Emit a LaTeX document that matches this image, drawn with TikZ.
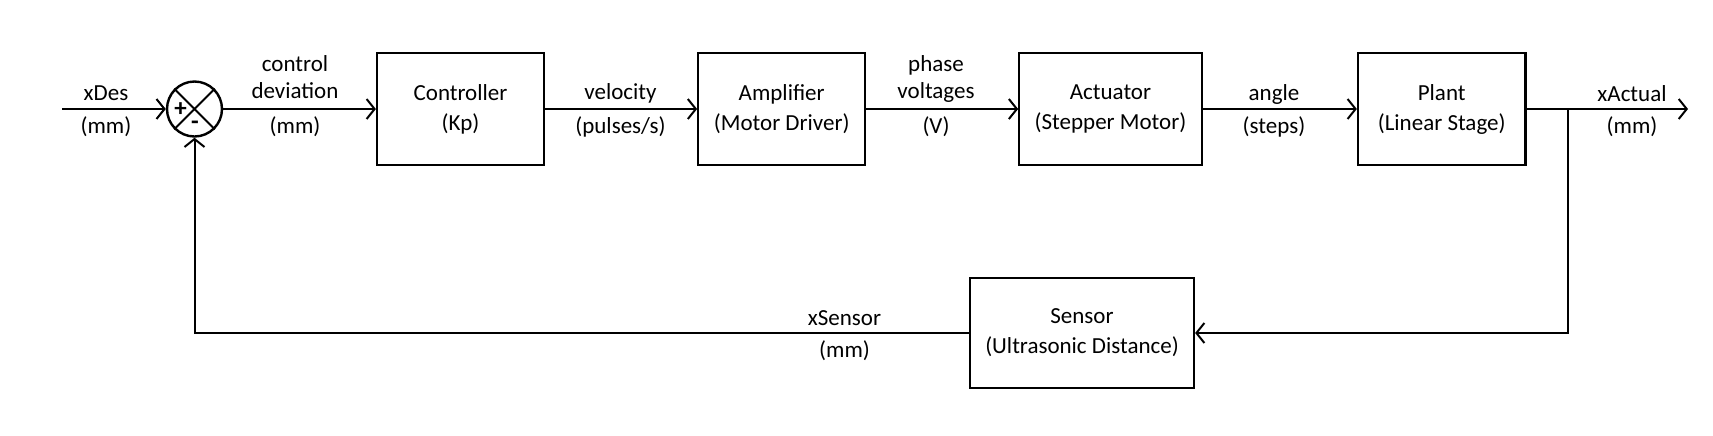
\documentclass[tikz,border=0pt]{standalone}
\usepackage{fontspec}
\setmainfont{Carlito}
\usetikzlibrary{arrows.meta}
\begin{document}
\begin{tikzpicture}[x=0.5pt,y=-0.5pt,
  txt/.style={font=\fontsize{11.5}{15}\selectfont},
  blk/.style={draw, line width=1.1pt, minimum height=55.75pt, align=center, inner sep=0pt, txt},
  lbl/.style={anchor=base, inner sep=0pt, txt},
  wire/.style={draw, line width=1pt},
  sig/.style={wire, -{Straight Barb[length=4pt,width=10pt,line width=1pt]}}]
\useasboundingbox (0,0) rectangle (1713,435);
% blocks
\node[blk, minimum width=83.5pt] (ctrl) at (460.5,109) {Controller\\(Kp)};
\node[blk, minimum width=83.5pt] (amp) at (781.7,109) {Amplifier\\(Motor Driver)};
\node[blk, minimum width=91.25pt] (act) at (1110.5,109) {Actuator\\(Stepper Motor)};
\node[blk, minimum width=83.75pt] (plant) at (1441.7,109) {Plant\\(Linear Stage)};
\node[blk, minimum width=112pt, minimum height=55.15pt] (sens) at (1082,333) {Sensor\\(Ultrasonic Distance)};
% summing junction
\node[circle, draw, line width=1.2pt, minimum size=27.5pt, inner sep=0pt] (sum) at (194.5,109) {};
\draw[line width=1pt] (sum.north west) -- (sum.south east) (sum.north east) -- (sum.south west);
\node[txt, inner sep=0pt, font=\fontsize{12.5}{15}\selectfont\bfseries] (plus) at (180.5,109.5) {+};
\node[txt, inner sep=0pt, font=\fontsize{12.5}{15}\selectfont\bfseries] (minus) at (195,125) {-};
% coordinates
\coordinate (in) at (62,109);
\coordinate (br) at (1568,109);
\coordinate (out) at (1688,109);
% connectors
\draw[sig] (in) -- (sum.west);
\draw[sig] (sum.east) -- (ctrl.west);
\draw[sig] (ctrl.east) -- (amp.west);
\draw[sig] (amp.east) -- (act.west);
\draw[sig] (act.east) -- (plant.west);
\draw[wire] (plant.east) -- (br);
\draw[sig] (br) -- (out);
\draw[sig] (br) |- (sens.east);
\draw[sig] (sens.west) -| (sum.south);
% labels
\node[lbl] (l1a) at (106,100) {xDes};
\node[lbl] (l1b) at (106,133) {(mm)};
\node[lbl] (l2a) at (295,71) {control};
\node[lbl] (l2b) at (295,98) {deviation};
\node[lbl] (l2c) at (295,133) {(mm)};
\node[lbl] (l3a) at (620.5,99) {velocity};
\node[lbl] (l3b) at (620.5,133) {(pulses/s)};
\node[lbl] (l4a) at (936,71) {phase};
\node[lbl] (l4b) at (936,98) {voltages};
\node[lbl] (l4c) at (936,133) {(V)};
\node[lbl] (l5a) at (1274,100) {angle};
\node[lbl] (l5b) at (1274,133) {(steps)};
\node[lbl] (l6a) at (1632,101) {xActual};
\node[lbl] (l6b) at (1632,133) {(mm)};
\node[lbl] (l7a) at (844.5,325) {xSensor};
\node[lbl] (l7b) at (844.5,357) {(mm)};
\end{tikzpicture}
\end{document}
